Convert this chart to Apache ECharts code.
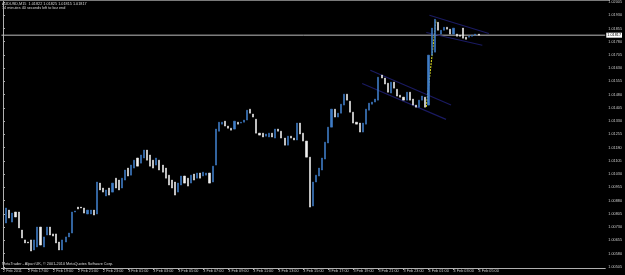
<!DOCTYPE html>
<html><head><meta charset="utf-8">
<script src="https://cdn.jsdelivr.net/npm/echarts@6/dist/echarts.min.js"></script>
<style>html,body{margin:0;padding:0;background:#000;overflow:hidden}#c{width:625px;height:275px}</style>
</head><body><div id="c"></div>
<script>
// ---- DATA ----
const symbolTitle = "AUDUSD,M15  1.01822 1.01825 1.01815 1.01817";
const timerText = "14 minutes 40 seconds left to bar end";
const copyright = "MetaTrader - Alpari UK, \u00a9 2001-2010 MetaQuotes Software Corp.";
const timeTicks = ["2 Feb 2011","2 Feb 17:00","2 Feb 19:00","2 Feb 21:00","2 Feb 23:00","3 Feb 01:00","3 Feb 03:00","3 Feb 05:00","3 Feb 07:00","3 Feb 09:00","3 Feb 11:00","3 Feb 13:00","3 Feb 15:00","3 Feb 17:00","3 Feb 19:00","3 Feb 21:00","3 Feb 23:00","4 Feb 01:00","4 Feb 03:00","4 Feb 05:00"];
const priceTicks = [1.00505,1.00580,1.00655,1.00730,1.00805,1.00880,1.00955,1.01030,1.01105,1.01180,1.01255,1.01330,1.01405,1.01480,1.01555,1.01630,1.01705,1.01780,1.01855,1.01930,1.02005];
const bidPrice = 1.01817;
const open = [null,
1.00753,1.00826,1.00758,1.00815,1.00815,1.00713,1.00657,1.00645,1.00657,1.00600,
1.00617,1.00730,1.00617,1.00685,1.00730,1.00691,1.00691,1.00645,1.00600,1.00645,
1.00674,1.00696,1.00815,1.00843,1.00843,1.00838,1.00804,1.00804,1.00826,1.00804,
1.00979,1.00951,1.00906,1.00951,1.00928,1.01007,1.00996,1.00951,1.00996,1.01064,
1.01024,1.01064,1.01121,1.01092,1.01121,1.01166,1.01138,1.01109,1.01081,1.01109,
1.01081,1.01064,1.01024,1.00996,1.00985,1.00928,1.00968,1.01019,1.01007,1.00979,
1.01030,1.01007,1.01036,1.01019,1.01024,1.01036,1.00985,1.01081,1.01273,1.01313,
1.01330,1.01302,1.01290,1.01285,1.01324,1.01319,1.01324,1.01336,1.01398,1.01370,
1.01341,1.01262,1.01262,1.01245,1.01240,1.01262,1.01234,1.01285,1.01273,1.01234,
1.01194,1.01245,1.01234,1.01223,1.01319,1.01262,1.01217,1.01126,1.00849,1.00985,
1.01019,1.01053,1.01115,1.01206,1.01296,1.01398,1.01353,1.01375,1.01421,1.01483,
1.01443,1.01381,1.01324,1.01319,1.01268,1.01313,1.01392,1.01426,1.01438,1.01449,
1.01591,1.01574,1.01545,1.01489,1.01551,1.01511,1.01477,1.01466,1.01449,1.01494,
1.01455,1.01421,1.01409,1.01449,1.01466,1.01421,1.01704,1.01721,1.01890,1.01823,
1.01845,1.01862,1.01851,1.01823,1.01823,1.01817,1.01857,1.01806,1.01806,1.01811,
1.01817,1.01823];
const close = [null,
1.00838,1.00781,1.00809,1.00787,1.00725,1.00668,1.00640,1.00640,1.00594,1.00657,
1.00730,1.00628,1.00674,1.00730,1.00685,1.00679,1.00640,1.00600,1.00657,1.00674,
1.00696,1.00815,1.00821,1.00832,1.00838,1.00809,1.00826,1.00826,1.00798,1.00985,
1.00940,1.00928,1.00940,1.00911,1.00979,1.00951,1.00940,1.01007,1.01053,1.01019,
1.01081,1.01109,1.01075,1.01138,1.01166,1.01109,1.01075,1.01064,1.01121,1.01053,
1.01041,1.01007,1.00968,1.00951,1.00911,1.00979,1.01019,1.00979,1.00962,1.01024,
1.00996,1.01036,1.01007,1.01041,1.01036,1.00979,1.01075,1.01285,1.01324,1.01324,
1.01302,1.01290,1.01279,1.01330,1.01313,1.01324,1.01336,1.01392,1.01375,1.01353,
1.01262,1.01251,1.01240,1.01257,1.01262,1.01240,1.01285,1.01273,1.01234,1.01194,
1.01245,1.01234,1.01223,1.01319,1.01257,1.01217,1.01126,1.00843,1.00985,1.01024,
1.01064,1.01121,1.01211,1.01296,1.01398,1.01353,1.01375,1.01426,1.01483,1.01449,
1.01381,1.01319,1.01313,1.01268,1.01319,1.01398,1.01432,1.01438,1.01455,1.01579,
1.01574,1.01540,1.01494,1.01551,1.01517,1.01472,1.01466,1.01449,1.01494,1.01449,
1.01421,1.01409,1.01449,1.01472,1.01409,1.01704,1.01857,1.01907,1.01845,1.01845,
1.01862,1.01851,1.01823,1.01857,1.01811,1.01811,1.01800,1.01794,1.01811,1.01817,
1.01823,1.01817];
// trendlines: [bar index, price]
const channelUpperA = [[117.4,1.01619],[143.2,1.01421]];
const channelLowerA = [[114.8,1.01543],[141.6,1.01340]];
const channelUpperB = [[136.3,1.01930],[155.3,1.01827]];
const channelLowerB = [[135.3,1.01832],[153.2,1.01760]];
const spikeLine = [[135.3,1.01411],[138.4,1.01902]];
const totalSlots = 193;

// ---- BUILD ----
const cats = [];
for (let i = 0; i < totalSlots; i++) cats.push(String(i));
const candles = open.map((o, i) => {
  const c = close[i];
  if (o == null) return '-';
  return [o, c, Math.min(o, c), Math.max(o, c)];
});
while (candles.length < totalSlots) candles.push('-');

const FONT = 'Liberation Sans';
const FS = 3.8;
const chart = echarts.init(document.getElementById('c'), null, {renderer: 'canvas'});
const lineS = (d, color, type) => ({
  type: 'line', xAxisIndex: 1, data: d, symbol: 'none', silent: true,
  lineStyle: {color, width: 1.1, type: type || 'solid'}, z: 3
});
const bidLine = lineS([[-0.5, bidPrice], [totalSlots - 0.5, bidPrice]], '#bdbdbd');
bidLine.lineStyle.width = 1;
bidLine.z = 2;
bidLine.endLabel = {show: true, distance: 1, formatter: () => bidPrice.toFixed(5),
  backgroundColor: '#ffffff', color: '#000', fontSize: FS, fontFamily: FONT, padding: [1, 1, 0, 1]};

chart.setOption({
  backgroundColor: '#000',
  animation: false,
  grid: {left: 0, right: 15, top: 1, bottom: 7},
  xAxis: [{
    type: 'category', data: cats, boundaryGap: true,
    axisLine: {lineStyle: {color: '#b0b0b0', width: 1}},
    axisTick: {show: true, alignWithLabel: true, length: 2, lineStyle: {color: '#b0b0b0'},
      interval: (idx) => idx % 8 === 0 && idx / 8 < timeTicks.length},
    axisLabel: {color: '#c8c8c8', fontSize: FS, fontFamily: FONT, margin: 1, align: 'left',
      interval: (idx) => idx % 8 === 0 && idx / 8 < timeTicks.length,
      formatter: (v, idx) => timeTicks[idx / 8] || ''},
    splitLine: {show: false}
  }, {
    type: 'value', min: -0.5, max: totalSlots - 0.5, show: false
  }],
  yAxis: {
    type: 'value', position: 'right', min: 1.00498, max: 1.02009, scale: true,
    axisLine: {show: true, lineStyle: {color: '#b0b0b0', width: 1}},
    axisTick: {show: true, length: 2, customValues: priceTicks, lineStyle: {color: '#b0b0b0'}},
    axisLabel: {color: '#c8c8c8', fontSize: FS, fontFamily: FONT, margin: 3,
      customValues: priceTicks, formatter: (v) => v.toFixed(5)},
    splitLine: {show: false}
  },
  series: [{
    type: 'candlestick', data: candles, barWidth: 1.6,
    itemStyle: {color: '#3f7cc6', color0: '#f0f0f0', borderColor: '#3f7cc6', borderColor0: '#f0f0f0', borderWidth: 0.6},
    z: 4
  },
  bidLine,
  lineS(channelUpperA, '#1a1a62'),
  lineS(channelLowerA, '#1a1a62'),
  lineS(channelUpperB, '#1a1a62'),
  lineS(channelLowerB, '#1a1a62'),
  lineS(spikeLine, '#d8d820', [2, 1])
  ],
  graphic: [
    {type: 'line', shape: {x1: 0, y1: 0.5, x2: 610, y2: 0.5}, style: {stroke: '#7a7a7a', lineWidth: 1}},
    {type: 'text', left: 2, top: 2, style: {text: symbolTitle, fill: '#d8d8d8', font: FS + 'px ' + FONT}},
    {type: 'text', left: 2, top: 6, style: {text: timerText, fill: '#d8d8d8', font: FS + 'px ' + FONT}},
    {type: 'text', left: 2, top: 262, style: {text: copyright, fill: '#d8d8d8', font: FS + 'px ' + FONT}}
  ]
});
</script></body></html>
